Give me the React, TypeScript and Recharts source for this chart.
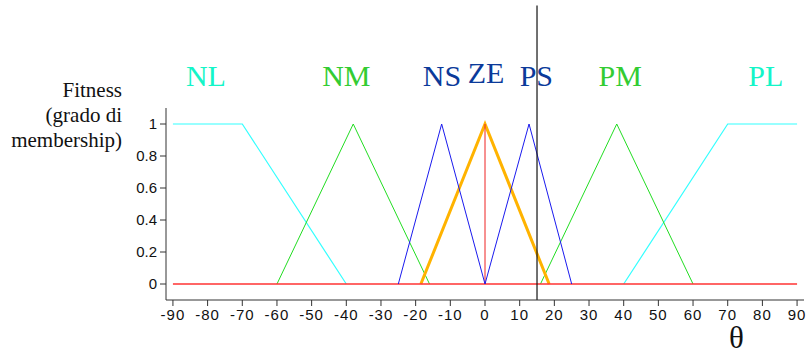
import React from "react";
import { LineChart, Line, XAxis, YAxis, ReferenceLine, ReferenceDot } from "recharts";

// membership functions (theta in degrees, membership 0..1)
const nlX = [-90, -70, -40];
const nlY = [1, 1, 0];
const nmX = [-60, -38, -16];
const nmY = [0, 1, 0];
const nsX = [-25, -12.5, 0];
const nsY = [0, 1, 0];
const zeX = [-18.5, 0, 18.5];
const zeY = [0, 1, 0];
const psX = [0, 12.7, 25];
const psY = [0, 1, 0];
const pmX = [16, 38, 60];
const pmY = [0, 1, 0];
const plX = [40, 70, 90];
const plY = [0, 1, 1];
const baseX = [-90, 90];
const baseY = [0, 0];
const zeroX = [0, 0];
const zeroY = [0, 1];

const xTicks = [-90, -80, -70, -60, -50, -40, -30, -20, -10, 0, 10, 20, 30, 40, 50, 60, 70, 80, 90];
const yTicks = [0, 0.2, 0.4, 0.6, 0.8, 1];

const setNames = ["NL", "NM", "NS", "ZE", "PS", "PM", "PL"];
const setLabelX = [-80.5, -40, -12.4, 0.3, 14.8, 39, 81];
const setLabelY = [1.237, 1.237, 1.237, 1.255, 1.237, 1.237, 1.237];
const setLabelColors = ["#14f5c8", "#33cc33", "#0b3a9a", "#0b3a9a", "#0b3a9a", "#33cc33", "#14f5c8"];

const inputTheta = 15;

const pts = (xs: number[], ys: number[]) => xs.map((x, i) => ({ x, y: ys[i] }));

const serif = "Liberation Serif, Times New Roman, DejaVu Serif, serif";
const sans = "Liberation Sans, Arial, sans-serif";

export default function App() {
  return (
    <div style={{ position: "fixed", left: 0, top: 0, width: 807, height: 356, background: "#fff" }}>
      <LineChart width={807} height={356} margin={{ top: 108, right: 3, bottom: 26, left: 106 }}>
        <XAxis
          dataKey="x"
          type="number"
          domain={[-92, 92]}
          ticks={xTicks}
          height={30}
          tickSize={6}
          tickMargin={3}
          stroke="#333"
          tick={{ fill: "#111", fontSize: 15, fontFamily: sans, letterSpacing: 1 }}
          allowDuplicatedCategory={false}
        />
        <YAxis
          type="number"
          domain={[-0.1, 1.1]}
          ticks={yTicks}
          width={60}
          tickSize={6}
          tickMargin={3}
          stroke="#333"
          tickFormatter={(v: number) => String(Number(v.toFixed(1)))}
          tick={{ fill: "#111", fontSize: 15, fontFamily: sans }}
        />
        <Line data={pts(nlX, nlY)} dataKey="y" stroke="#33ffff" strokeWidth={1.2} dot={false} isAnimationActive={false} />
        <Line data={pts(plX, plY)} dataKey="y" stroke="#33ffff" strokeWidth={1.2} dot={false} isAnimationActive={false} />
        <Line data={pts(nmX, nmY)} dataKey="y" stroke="#22dd22" strokeWidth={1} dot={false} isAnimationActive={false} />
        <Line data={pts(pmX, pmY)} dataKey="y" stroke="#22dd22" strokeWidth={1} dot={false} isAnimationActive={false} />
        <Line data={pts(zeX, zeY)} dataKey="y" stroke="#ffb300" strokeWidth={3} dot={false} isAnimationActive={false} />
        <Line data={pts(baseX, baseY)} dataKey="y" stroke="#ff3333" strokeWidth={1.6} dot={false} isAnimationActive={false} />
        <Line data={pts(zeroX, zeroY)} dataKey="y" stroke="#ee2222" strokeWidth={1} dot={false} isAnimationActive={false} />
        <Line data={pts(nsX, nsY)} dataKey="y" stroke="#1a1aee" strokeWidth={1} dot={false} isAnimationActive={false} />
        <Line data={pts(psX, psY)} dataKey="y" stroke="#1a1aee" strokeWidth={1} dot={false} isAnimationActive={false} />
        <ReferenceLine
          segment={[{ x: inputTheta, y: -0.1 }, { x: inputTheta, y: 1.74 }]}
          stroke="#111"
          strokeWidth={1.2}
          ifOverflow="visible"
        />
        {setNames.map((name, i) => (
          <ReferenceDot
            key={name}
            x={setLabelX[i]}
            y={setLabelY[i]}
            r={0}
            ifOverflow="visible"
            shape={(p: any) => (
              <text
                x={p.cx}
                y={p.cy}
                textAnchor="middle"
                fill={setLabelColors[i]}
                style={{ fontSize: 30, fontFamily: serif }}
              >
                {name}
              </text>
            )}
          />
        ))}
      </LineChart>
      <div
        style={{
          position: "absolute",
          right: 807 - 122,
          top: 78,
          textAlign: "right",
          fontFamily: serif,
          fontSize: 21,
          lineHeight: "25px",
          color: "#111",
          whiteSpace: "nowrap",
        }}
      >
        Fitness
        <br />
        (grado di
        <br />
        membership)
      </div>
      <div
        style={{
          position: "absolute",
          left: 729,
          top: 323,
          fontFamily: serif,
          fontSize: 31,
          lineHeight: "30px",
          color: "#111",
        }}
      >
        θ
      </div>
    </div>
  );
}
